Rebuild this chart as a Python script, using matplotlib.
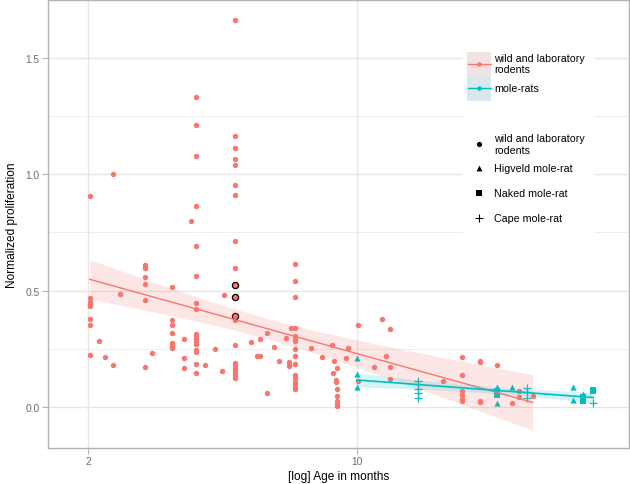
import numpy as np
import matplotlib
matplotlib.use("Agg")
import matplotlib.pyplot as plt
from matplotlib.patches import Rectangle

plt.rcParams['font.family'] = ['Liberation Sans', 'DejaVu Sans']

RED = "#F8766D"
TEAL = "#00BFC4"

# ---------------- data ----------------
rodent_age = [2.02, 2.13, 2.22, 2.32, 2.42, 2.82, 2.94, 3.31, 3.56, 3.71,
              3.82, 4.03, 4.27, 4.47, 4.52, 4.83, 5.30, 5.50, 5.58, 5.59,
              5.85, 6.08, 6.27, 6.53, 6.64, 6.72, 6.89, 7.58, 8.11, 8.61,
              8.68, 8.73, 8.80, 8.85, 8.86, 9.36, 9.50, 10.06, 11.1, 11.6,
              11.9, 12.18, 16.7, 18.7, 20.9, 23.15, 25.3, 26.4, 28.6]
rodent_values = [
    [0.908, 0.468, 0.45, 0.443, 0.433, 0.378, 0.354, 0.225],
    [0.285],
    [0.216],
    [1.00, 0.182],
    [0.487],
    [0.612, 0.605, 0.597, 0.56, 0.528, 0.46, 0.172],
    [0.232],
    [0.514, 0.374, 0.351, 0.317, 0.275, 0.263, 0.252],
    [0.292, 0.211, 0.168],
    [0.798],
    [1.331, 1.211, 1.080, 0.865, 0.693, 0.562, 0.448, 0.422, 0.315, 0.304,
     0.292, 0.281, 0.269, 0.246, 0.238, 0.183, 0.145],
    [0.182],
    [0.249],
    [0.153],
    [0.48],
    [1.662, 1.163, 1.112, 1.066, 1.040, 0.955, 0.910, 0.715, 0.596, 0.375,
     0.266, 0.189, 0.179, 0.169, 0.159, 0.149, 0.138, 0.126],
    [0.279],
    [0.22],
    [0.22],
    [0.294],
    [0.318, 0.059],
    [0.259],
    [0.198],
    [0.295],
    [0.192, 0.182, 0.175],
    [0.341],
    [0.616, 0.543, 0.471, 0.341, 0.305, 0.292, 0.282, 0.248, 0.22, 0.183,
     0.136, 0.126, 0.109, 0.099, 0.087, 0.077],
    [0.254],
    [0.213],
    [0.266],
    [0.146],
    [0.198],
    [0.117, 0.106],
    [0.169],
    [0.076, 0.046, 0.026, 0.014, 0.003],
    [0.21],
    [0.254],
    [0.351, 0.114],
    [0.173],
    [0.377],
    [0.218],
    [0.335, 0.17, 0.122],
    [0.11],
    [0.215, 0.139, 0.067, 0.05, 0.036, 0.026],
    [0.199, 0.193, 0.027, 0.02],
    [0.182],
    [0.017],
    [0.069, 0.042],
    [0.046],
]
highlight_age = [4.83, 4.83, 4.83]
highlight_val = [0.526, 0.473, 0.391]

higveld_age = [10.0, 10.0, 10.0, 23.15, 23.15, 25.3, 36.5, 36.5, 38.7]
higveld_val = [0.212, 0.142, 0.085, 0.085, 0.017, 0.087, 0.085, 0.031, 0.056]
naked_age = [23.15, 23.15, 38.7, 38.7, 41.1, 41.1]
naked_val = [0.07, 0.052, 0.042, 0.027, 0.075, 0.07]
cape_age = [14.4, 14.4, 14.4, 14.4, 14.4, 27.6, 27.6, 27.6, 41.1]
cape_val = [0.113, 0.098, 0.077, 0.059, 0.039, 0.08, 0.063, 0.037, 0.016]

x_ticks = [2, 10]
y_ticks = [0.0, 0.5, 1.0, 1.5]
y_tick_labels = ["0.0", "0.5", "1.0", "1.5"]

# ---------------- helpers ----------------
def t975(df):
    z = 1.959964
    g1 = (z**3 + z) / 4
    g2 = (5 * z**5 + 16 * z**3 + 3 * z) / 96
    g3 = (3 * z**7 + 19 * z**5 + 17 * z**3 - 15 * z) / 384
    return z + g1 / df + g2 / df**2 + g3 / df**3


def lm_band(x, y, n_grid=100):
    x = np.asarray(x, float)
    y = np.asarray(y, float)
    lx = np.log10(x)
    n = len(lx)
    b, a = np.polyfit(lx, y, 1)
    s = np.sqrt(np.sum((y - (a + b * lx))**2) / (n - 2))
    sxx = np.sum((lx - lx.mean())**2)
    lg = np.linspace(lx.min(), lx.max(), n_grid)
    fit = a + b * lg
    se = s * np.sqrt(1.0 / n + (lg - lx.mean())**2 / sxx)
    t = t975(n - 2)
    return 10**lg, fit, fit - t * se, fit + t * se


# expand rodent data
rx, ry = [], []
for a, vals in zip(rodent_age, rodent_values):
    for v in vals:
        rx.append(a)
        ry.append(v)
rx_all = rx + highlight_age
ry_all = ry + highlight_val

mx = higveld_age + naked_age + cape_age
my = higveld_val + naked_val + cape_val

# ---------------- figure ----------------
W, H = 630, 485
fig = plt.figure(figsize=(W / 100, H / 100), dpi=100)
ax = fig.add_axes([48 / W, 36 / H, 581 / W, 448 / H])

ax.set_xscale('log')
ax.set_xlim(10**(1 + (48 - 357) / 384.8), 10**(1 + (629 - 357) / 384.8))
ax.set_ylim(-0.176, 1.749)

# grid
ax.set_axisbelow(True)
for yv in [0.25, 0.75, 1.25]:
    ax.axhline(yv, color="#EBEBEB", lw=0.6, zorder=0)
for yv in y_ticks:
    ax.axhline(yv, color="#E6E6E6", lw=1.0, zorder=0)
for xv in x_ticks:
    ax.axvline(xv, color="#E6E6E6", lw=1.0, zorder=0)

# points
ax.scatter(rx, ry, s=15, color=RED, linewidths=0, zorder=2)
ax.scatter(highlight_age, highlight_val, s=20, color=RED, edgecolors="black",
           linewidths=0.9, zorder=2)
ax.scatter(higveld_age, higveld_val, s=20, marker="^", color=TEAL, linewidths=0, zorder=2)
ax.scatter(naked_age, naked_val, s=16, marker="s", color=TEAL, linewidths=0, zorder=2)
ax.scatter(cape_age, cape_val, s=40, marker="+", color=TEAL, linewidths=0.9, zorder=2)

# smooths
gx, fit, lo, hi = lm_band(rx_all, ry_all)
ax.fill_between(gx, lo, hi, color=RED, alpha=0.17, linewidth=0, zorder=3)
ax.plot(gx, fit, color=RED, lw=1.0, zorder=4)

gx2, fit2, lo2, hi2 = lm_band(mx, my)
ax.fill_between(gx2, lo2, hi2, color=TEAL, alpha=0.17, linewidth=0, zorder=5)
ax.plot(gx2, fit2, color=TEAL, lw=1.2, zorder=6)

# axes styling
ax.set_xticks(x_ticks)
ax.set_xticklabels([str(v) for v in x_ticks])
ax.xaxis.set_minor_locator(matplotlib.ticker.NullLocator())
ax.set_yticks(y_ticks)
ax.set_yticklabels(y_tick_labels)
ax.tick_params(axis='both', which='major', length=4, width=0.8, color="#B3B3B3",
               labelsize=7.4, labelcolor="#6E6E6E", pad=2)
for sp in ax.spines.values():
    sp.set_color("#B3B3B3")
    sp.set_linewidth(1.0)

ax.set_xlabel("[log] Age in months", fontsize=8.6, color="black", labelpad=3)
ax.set_ylabel("Normalized proliferation", fontsize=8.6, color="black", labelpad=5)

# ---------------- legend (pixel coordinates overlay) ----------------
ov = fig.add_axes([0, 0, 1, 1], zorder=10)
ov.set_xlim(0, W)
ov.set_ylim(H, 0)
ov.axis("off")

ov.add_patch(Rectangle((463, 40), 132, 197, facecolor="white", edgecolor="none"))
# colour legend
ov.add_patch(Rectangle((467, 52.5), 24, 24.5, facecolor="#F4E1E1", edgecolor="none"))
ov.add_patch(Rectangle((467, 77), 24, 24.5, facecolor="#DAE8EC", edgecolor="none"))
ov.plot([467.5, 490.5], [64.5, 64.5], color=RED, lw=1.0)
ov.scatter([479], [64.5], s=10, color=RED, linewidths=0)
ov.plot([467.5, 490.5], [89, 89], color=TEAL, lw=1.0)
ov.scatter([479], [89], s=10, color=TEAL, linewidths=0)
leg_fs = 7.7
ov.text(494, 64.5, "wild and laboratory\nrodents", fontsize=leg_fs, va="center", ha="left",
        linespacing=1.15)
ov.text(494, 89.3, "mole-rats", fontsize=leg_fs, va="center", ha="left")

# shape legend
ov.scatter([479], [145], s=14, marker="o", color="black", linewidths=0)
ov.scatter([479], [169], s=18, marker="^", color="black", linewidths=0)
ov.scatter([479], [194], s=13, marker="s", color="black", linewidths=0)
ov.scatter([479], [218.7], s=40, marker="+", color="black", linewidths=0.8)
ov.text(494, 145, "wild and laboratory\nrodents", fontsize=leg_fs, va="center", ha="left",
        linespacing=1.15)
ov.text(494, 169.3, "Higveld mole-rat", fontsize=leg_fs, va="center", ha="left")
ov.text(494, 194.3, "Naked mole-rat", fontsize=leg_fs, va="center", ha="left")
ov.text(494, 218.7, "Cape mole-rat", fontsize=leg_fs, va="center", ha="left")

fig.savefig("out.png", dpi=100)
